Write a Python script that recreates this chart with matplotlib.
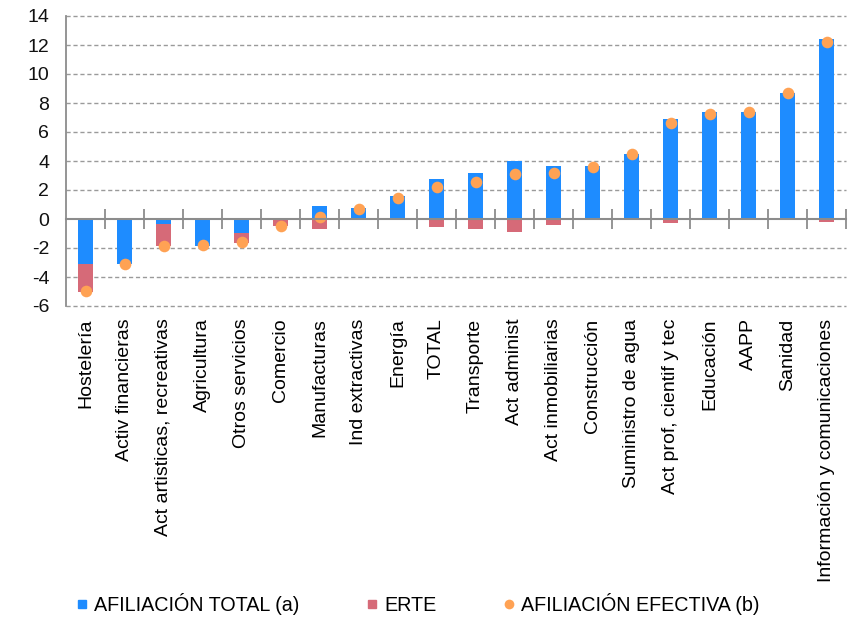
import numpy as np
import matplotlib
matplotlib.use("Agg")
import matplotlib.pyplot as plt
from matplotlib.lines import Line2D

plt.rcParams['font.family'] = ['Liberation Sans', 'DejaVu Sans']
plt.rcParams['axes.unicode_minus'] = False

categories = ["Hostelería", "Activ financieras", "Act artisticas, recreativas", "Agricultura",
              "Otros servicios", "Comercio", "Manufacturas", "Ind extractivas", "Energía", "TOTAL",
              "Transporte", "Act administ", "Act inmobiliarias", "Construcción", "Suministro de agua",
              "Act prof, cientif y tec", "Educación", "AAPP", "Sanidad", "Información y comunicaciones"]
afiliacion_total = [-3.1, -3.1, -0.35, -1.84, -0.99, 0.0, 0.93, 0.77, 1.59, 2.78,
                    3.15, 3.98, 3.66, 3.66, 4.51, 6.90, 7.40, 7.40, 8.67, 12.41]
erte = [-1.9, -0.03, -1.5, -0.02, -0.64, -0.45, -0.68, -0.08, -0.1, -0.53,
        -0.69, -0.92, -0.44, -0.1, -0.1, -0.28, -0.1, -0.1, -0.1, -0.18]
afiliacion_efectiva = [-4.97, -3.1, -1.86, -1.8, -1.6, -0.45, 0.12, 0.7, 1.45, 2.23,
                       2.55, 3.10, 3.17, 3.56, 4.51, 6.62, 7.26, 7.40, 8.67, 12.18]
yticks = list(range(-6, 16, 2))

BLUE = '#1E8CFF'
RED = '#D66A78'
ORANGE = '#FFA254'
GREY = '#8C8C8C'

fig = plt.figure(figsize=(8.56, 6.2), dpi=100)
ax = fig.add_axes([66/856, 1-306/620, 780/856, 290/620])

x = np.arange(len(categories))
tot = np.array(afiliacion_total)
ert = np.array(erte)
bottom = np.where((tot < 0) & (ert < 0), tot, 0.0)

for yv in yticks:
    if yv != 0:
        ax.axhline(yv, color='#9A9A9A', linewidth=1.0, linestyle=(0, (3, 2)), zorder=1, clip_on=False)

w = 0.4
ax.bar(x, tot, width=w, color=BLUE, zorder=3)
ax.bar(x, ert, width=w, bottom=bottom, color=RED, zorder=3)
ax.scatter(x, afiliacion_efectiva, s=70, color=ORANGE, zorder=4, linewidths=0)

ax.set_xlim(-0.5, len(categories) - 0.5)
ax.set_ylim(-6, 14)
ax.set_yticks(yticks)
ax.set_yticklabels([str(v) for v in yticks], fontsize=14)
ax.tick_params(axis='y', length=0, pad=12, labelcolor='#111111')

for s in ['top', 'right']:
    ax.spines[s].set_visible(False)
ax.spines['left'].set_color(GREY)
ax.spines['left'].set_linewidth(1.3)
ax.spines['bottom'].set_position(('data', 0))
ax.spines['bottom'].set_color(GREY)
ax.spines['bottom'].set_linewidth(1.5)
ax.spines['bottom'].set_zorder(5)

ax.set_xticks(np.arange(len(categories)) + 0.5)
ax.tick_params(axis='x', direction='inout', length=14, width=1.3, color=GREY, labelbottom=False)

sec = ax.secondary_xaxis('bottom')
sec.set_xticks(x)
sec.set_xticklabels(categories, rotation=90, fontsize=14, va='top', ha='center')
sec.tick_params(axis='x', length=0, pad=9)
sec.spines['bottom'].set_visible(False)

handles = [Line2D([], [], marker='s', linestyle='none', color=BLUE, markersize=6),
           Line2D([], [], marker='s', linestyle='none', color=RED, markersize=6),
           Line2D([], [], marker='o', linestyle='none', color=ORANGE, markersize=7, markeredgewidth=0)]
labels = ['AFILIACIÓN TOTAL (a)', 'ERTE', 'AFILIACIÓN EFECTIVA (b)']
fig.legend(handles, labels, loc='center left', bbox_to_anchor=(76/856, 1-604/620), ncol=3,
           frameon=False, fontsize=14.2, handlelength=0.6, handletextpad=0.3,
           columnspacing=3.4, borderaxespad=0, borderpad=0)

fig.savefig('out.png', dpi=100)
